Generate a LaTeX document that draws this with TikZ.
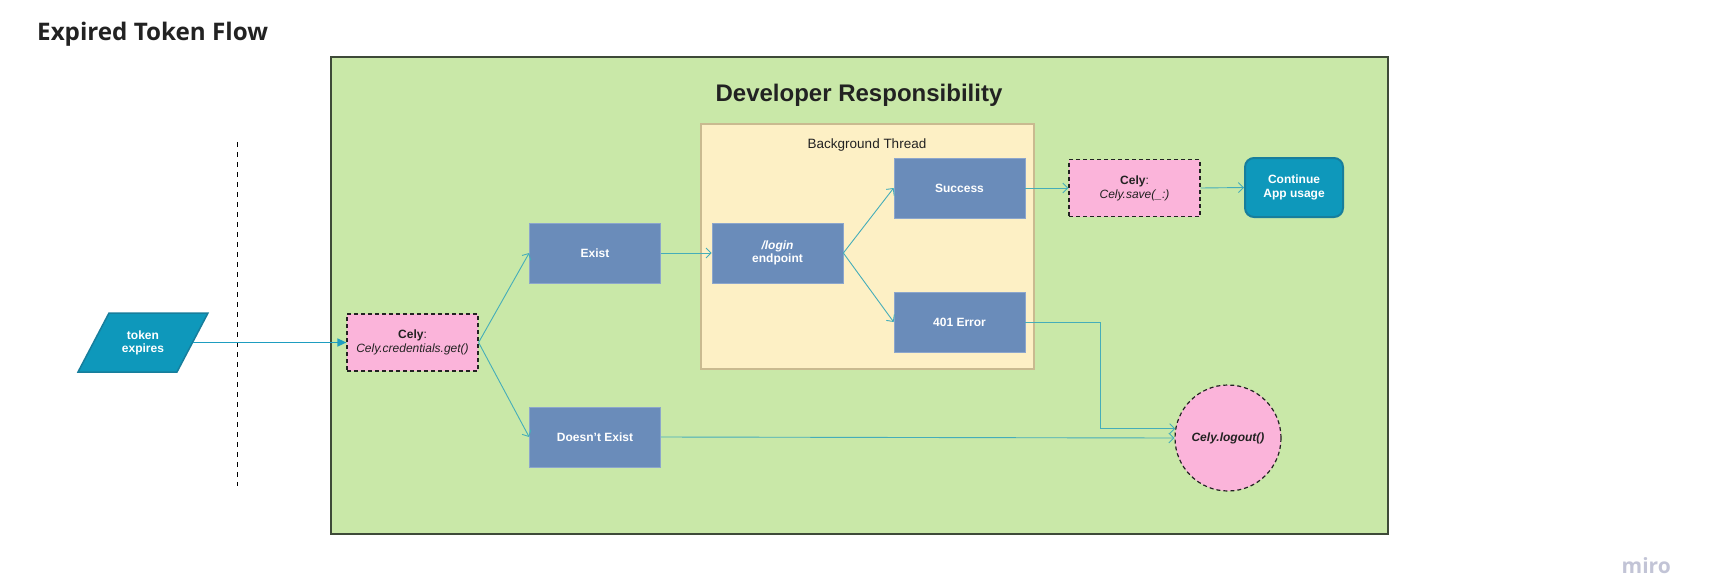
\documentclass[tikz,border=0pt]{standalone}
\usepackage{fontspec}
\setmainfont{Liberation Sans}
\newfontfamily\osans{Open Sans}
\usetikzlibrary{arrows.meta}
\definecolor{devgreen}{HTML}{C9E8A8}
\definecolor{devline}{HTML}{3E4A38}
\definecolor{thrfill}{HTML}{FDF0C5}
\definecolor{thrline}{HTML}{C9BA90}
\definecolor{boxblue}{HTML}{6A8CBA}
\definecolor{boxline}{HTML}{8CA6CC}
\definecolor{pinkfill}{HTML}{FBB4DA}
\definecolor{tealfill}{HTML}{0E98BB}
\definecolor{tealline}{HTML}{177E9C}
\definecolor{conncol}{HTML}{45ADB9}
\definecolor{tokarrow}{HTML}{1E9DC0}
\definecolor{textdark}{HTML}{222222}
\definecolor{mirogray}{HTML}{C2C4D6}
\begin{document}
\begin{tikzpicture}[x=1pt,y=-1pt,
  devbox/.style={draw=devline, fill=devgreen, line width=1.5pt, minimum width=1057pt, minimum height=477pt, inner sep=0pt},
  thrbox/.style={draw=thrline, fill=thrfill, line width=2pt, minimum width=333pt, minimum height=245pt, inner sep=0pt},
  bluebox/.style={draw=boxline, fill=boxblue, line width=0.7pt, minimum width=131pt, minimum height=60pt, inner sep=0pt,
     text=white, align=center, font=\bfseries\fontsize{12}{13.5}\selectfont},
  pinkbox/.style={draw=textdark, dash pattern=on 4pt off 3pt, fill=pinkfill, line width=1.2pt, minimum width=131pt,
     minimum height=57pt, inner sep=0pt, align=center, text=textdark, font=\fontsize{12}{14}\selectfont},
  conn/.style={draw=conncol, line width=0.9pt, -{Straight Barb[length=5pt,width=10pt]}},
  tokconn/.style={draw=tokarrow, line width=1.5pt, -{Triangle[length=9pt,width=8pt]}},
  divider/.style={draw=black, line width=1pt, dash pattern=on 5pt off 5pt},
  caption/.style={inner sep=0pt, text=textdark}
]
\useasboundingbox (0,0) rectangle (1712,584);

% title
\node[caption, anchor=base west, font=\osans\bfseries\fontsize{24.2}{28}\selectfont] (title) at (37,40.7) {Expired Token Flow};

% divider
\coordinate (dtop) at (237,142);
\coordinate (dbot) at (237,486);
\draw[divider] (dtop) -- (dbot);

% developer area
\node[devbox] (dev) at (859.5,295.5) {};
\node[caption, anchor=base, font=\bfseries\fontsize{24}{28}\selectfont] (devt) at (859,101.5) {Developer Responsibility};

% background thread
\node[thrbox] (thr) at (867.5,246.5) {};
\node[caption, anchor=base, font=\fontsize{13.5}{15}\selectfont] (thrt) at (867,148) {Background Thread};

% token expires (parallelogram)
\draw[fill=tealfill, draw=tealline, line width=1.5pt] (109,313) -- (208,313) -- (177,372) -- (78,372) -- cycle;
\node[minimum width=99pt, minimum height=59pt, inner sep=0pt, text=white, align=center,
      font=\bfseries\fontsize{12}{13}\selectfont] (tok) at (143,342.5) {token\\expires};

% nodes
\node[pinkbox] (get) at (412.5,342.5) {\textbf{Cely}:\\\textit{Cely.credentials.get()}};
\node[bluebox] (exist) at (595,253) {Exist};
\node[bluebox] (dne) at (595,437) {Doesn't Exist};
\node[bluebox] (login) at (777.5,253) {\textit{/login}\\endpoint};
\node[bluebox] (succ) at (959.5,188) {Success};
\node[bluebox] (err) at (959.5,322) {401 Error};
\node[pinkbox] (save) at (1134.5,188) {\textbf{Cely}:\\\textit{Cely.save(\_:)}};
\node[draw=tealline, fill=tealfill, line width=2pt, rounded corners=9pt, minimum width=98pt, minimum height=59pt,
      inner sep=0pt, text=white, align=center, font=\bfseries\fontsize{12}{13.5}\selectfont] (cont) at (1294,187.5) {Continue\\App usage};
\node[circle, draw=textdark, dash pattern=on 4pt off 3pt, fill=pinkfill, line width=1.2pt, minimum size=106pt,
      inner sep=0pt, text=textdark, font=\bfseries\itshape\fontsize{12}{14}\selectfont] (logout) at (1228,438) {Cely.logout()};

% miro
\node[anchor=base east, inner sep=0pt, text=mirogray, font=\osans\bfseries\fontsize{21}{24}\selectfont] (miro) at (1671,573) {miro};

% connectors
\draw[tokconn] (tok.east) -- (get.west);
\draw[conn] (get.east) -- (exist.west);
\draw[conn] (get.east) -- (dne.west);
\draw[conn] (exist.east) -- (login.west);
\draw[conn] (login.east) -- (succ.west);
\draw[conn] (login.east) -- (err.west);
\draw[conn] (succ.east) -- (save.west);
\draw[conn] (save.east) -- (cont.west);
\draw[conn] (err.east) -- ++(75,0) |- (logout.170);
\draw[conn] (dne.east) -- (logout.west);
\end{tikzpicture}
\end{document}
